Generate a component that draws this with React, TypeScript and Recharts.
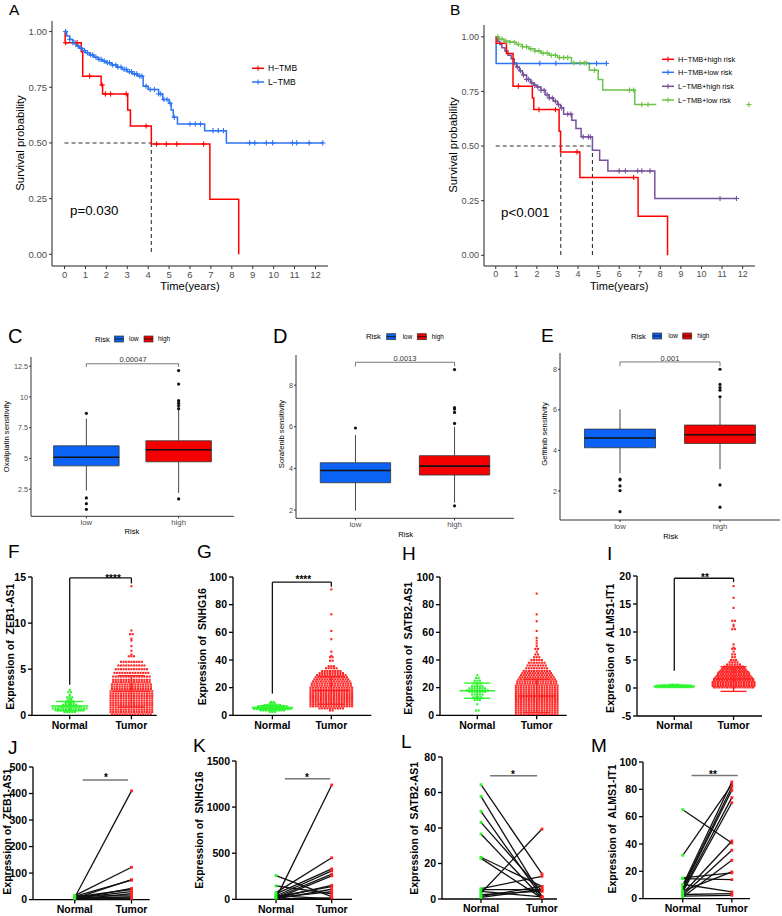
import React from "react";
import {
  ComposedChart,
  Line,
  Scatter,
  XAxis,
  YAxis,
  ReferenceLine,
  ReferenceArea,
} from "recharts";

const FONT = "'Liberation Sans', Arial, Helvetica, sans-serif";

// ---- A: survival by TMB (step times, survival after each step, censor times)
const aHighTime = [0, 0.03, 0.8, 0.87, 1.75, 1.82, 3.02, 3.15, 4.15, 6.95, 8.33];
const aHighSurv = [1, 0.95, 0.91, 0.8, 0.76, 0.72, 0.648, 0.576, 0.495, 0.247, 0];
const aHighCensor = [0.05, 0.6, 1.2, 1.8, 1.95, 2.2, 2.95, 3.9, 4.4, 4.87, 5.37, 6.65];
const aLowTime = [0, 0.1, 0.25, 0.4, 0.55, 0.7, 0.85, 1.0, 1.2, 1.4, 1.6, 1.8, 2.0, 2.25, 2.5, 2.75, 3.0, 3.25, 3.5, 3.76, 4.0, 4.5, 4.7, 5.0, 5.1, 5.2, 5.4, 6.7, 7.74];
const aLowSurv = [1, 0.98, 0.965, 0.95, 0.935, 0.925, 0.915, 0.905, 0.895, 0.885, 0.875, 0.867, 0.86, 0.85, 0.84, 0.83, 0.82, 0.81, 0.8, 0.755, 0.74, 0.72, 0.695, 0.678, 0.648, 0.615, 0.585, 0.555, 0.5];
const aLowCensor = [0.05, 0.25, 0.4, 0.5, 0.65, 0.8, 0.95, 1.1, 1.25, 1.35, 1.5, 1.65, 1.75, 1.9, 2.05, 2.15, 2.3, 2.45, 2.55, 2.7, 2.85, 2.95, 3.1, 3.2, 3.35, 3.45, 3.6, 3.7, 3.9, 4.1, 4.3, 4.5, 4.6, 4.75, 4.9, 5.05, 5.25, 6.0, 6.25, 6.5, 7.1, 7.35, 7.6, 8.85, 9.1, 9.65, 9.95, 10.9, 11.1, 11.7, 12.35];

// ---- B: TMB x risk
const bHhTime = [0, 0.02, 0.52, 0.84, 1.78, 1.85, 3.08, 3.15, 4.09, 6.92, 8.35];
const bHhSurv = [1, 0.97, 0.924, 0.774, 0.72, 0.667, 0.568, 0.473, 0.356, 0.179, 0];
const bHhCensor = [1.1, 2.1, 2.9, 3.95, 6.7];
const bHlTime = [0, 0.02];
const bHlSurv = [0.97, 0.878];
const bHlCensor = [2.14, 2.92, 4.9, 5.38];
const bLhTime = [0, 0.1, 0.2, 0.3, 0.45, 0.6, 0.75, 0.9, 1.0, 1.15, 1.3, 1.5, 1.7, 1.85, 2.0, 2.2, 2.4, 2.6, 2.8, 3.0, 3.15, 3.3, 3.7, 3.9, 4.15, 4.7, 5.05, 5.45, 7.73];
const bLhSurv = [1, 0.98, 0.965, 0.95, 0.935, 0.915, 0.9, 0.88, 0.862, 0.845, 0.825, 0.805, 0.79, 0.778, 0.77, 0.755, 0.735, 0.72, 0.705, 0.69, 0.675, 0.646, 0.618, 0.58, 0.542, 0.481, 0.435, 0.386, 0.26];
const bLhCensor = [0.9, 1.05, 1.2, 1.35, 1.5, 1.6, 1.75, 1.9, 2.05, 2.2, 2.35, 2.5, 2.6, 2.75, 2.9, 3.05, 3.2, 3.5, 3.65, 4.25, 4.5, 4.6, 6.0, 6.3, 6.9, 7.1, 7.5, 10.9, 11.7];
const bLlTime = [0, 0.15, 0.4, 0.7, 1.0, 1.3, 1.6, 1.9, 2.2, 2.6, 3.0, 3.68, 4.55, 4.98, 5.2, 6.76];
const bLlSurv = [1, 0.99, 0.98, 0.975, 0.965, 0.955, 0.945, 0.935, 0.925, 0.915, 0.905, 0.88, 0.847, 0.805, 0.756, 0.69];
const bLlCensor = [0.1, 0.3, 0.5, 0.7, 0.9, 1.1, 1.3, 1.5, 1.7, 1.9, 2.1, 2.3, 2.5, 2.7, 2.9, 3.1, 3.3, 3.5, 3.8, 4.1, 4.3, 4.4, 4.8, 6.5, 6.7, 7.1, 7.4, 12.3];

const yearTicks = [0, 1, 2, 3, 4, 5, 6, 7, 8, 9, 10, 11, 12];
const survTicks = [0, 0.25, 0.5, 0.75, 1];

// ---- C-E boxplots: [whisker low, q1, median, q3, whisker high]
const cLow = [2.4, 4.4, 5.1, 6.03, 8.25];
const cHigh = [2.2, 4.73, 5.71, 6.44, 8.95];
const cLowOut = [8.67, 1.79, 1.33, 0.87];
const cHighOut = [12.15, 11.05, 9.7, 9.5, 9.3, 9.05, 1.71];
const dLow = [1.97, 3.31, 3.9, 4.27, 5.6];
const dHigh = [2.35, 3.68, 4.11, 4.61, 6.0];
const dLowOut = [5.94];
const dHighOut = [8.75, 6.92, 6.85, 6.69, 6.16, 2.2];
const eLow = [2.87, 4.13, 4.61, 5.05, 6.02];
const eHigh = [3.07, 4.34, 4.77, 5.25, 6.55];
const eLowOut = [2.59, 2.55, 2.25, 2.02, 0.98];
const eHighOut = [8.0, 7.25, 7.1, 6.97, 6.64, 2.3, 1.2];

// ---- F-I dot plots: value rows and number of dots in each row; stats = [normal mean, sd, tumor mean, sd]
const fNormLv = [0.35, 0.55, 0.75, 0.95, 1.15, 1.35, 1.55, 1.75, 1.95, 2.2, 2.5, 2.75];
const fNormCt = [5, 12, 14, 9, 6, 4, 3, 2, 3, 1, 2, 1];
const fTumLv = [0.1, 0.35, 0.6, 0.85, 1.1, 1.35, 1.6, 1.85, 2.1, 2.35, 2.6, 2.85, 3.1, 3.35, 3.6, 3.85, 4.2, 4.6, 5.0, 5.4, 5.8, 6.4, 6.6, 7.0, 7.5, 8.1, 8.3, 8.8, 9.2, 14.0];
const fTumCt = [16, 17, 17, 17, 17, 17, 17, 17, 17, 17, 17, 16, 16, 16, 15, 15, 15, 14, 13, 11, 9, 3, 1, 1, 1, 1, 1, 2, 1, 1];
const fStats = [1.0, 0.5, 2.6, 1.7];

const gNormLv = [2.5, 3.5, 4.5, 5.5, 6.5, 7.5, 8.5, 9.6];
const gNormCt = [3, 10, 15, 16, 12, 7, 3, 2];
const gTumLv = [3.5, 5, 6.5, 8, 9.5, 11, 12.5, 14, 15.5, 17, 18.5, 20, 21.5, 23, 24.5, 26, 27.5, 29, 30.5, 32, 34, 35.5, 39.5, 42, 43, 46, 55, 61, 73, 91];
const gTumCt = [2, 10, 17, 17, 17, 17, 17, 17, 17, 17, 17, 17, 16, 16, 15, 14, 13, 12, 10, 8, 5, 3, 2, 2, 1, 1, 1, 1, 1, 1];
const gStats = [5.5, 1.4, 18, 10];

const hNormLv = [3.5, 8, 11, 13, 15, 17, 18, 19.5, 21, 23, 25, 27, 29];
const hNormCt = [2, 1, 3, 4, 5, 7, 9, 7, 5, 4, 3, 2, 1];
const hTumLv = [0.5, 2, 3.5, 5, 6.5, 8, 9.5, 11, 12.5, 14, 15.5, 17, 18.5, 20, 21.5, 23, 24.5, 26, 27.5, 29, 30.5, 32, 34, 36, 38, 40, 42, 44, 46, 48, 50, 52, 54, 56, 61, 68, 73, 88];
const hTumCt = [17, 17, 17, 17, 17, 17, 17, 17, 17, 17, 17, 17, 17, 17, 17, 16, 16, 15, 14, 13, 12, 11, 9, 8, 7, 5, 3, 2, 1, 2, 1, 1, 1, 1, 1, 1, 1, 1];
const hStats = [17.8, 5.5, 14, 12];

const iNormLv = [0.15, 0.3, 0.45, 0.6];
const iNormCt = [15, 16, 14, 4];
const iTumLv = [0.1, 0.35, 0.6, 0.85, 1.1, 1.35, 1.6, 1.85, 2.1, 2.35, 2.6, 2.85, 3.1, 3.35, 3.6, 3.85, 4.2, 4.6, 5.0, 5.5, 6.0, 6.5, 7.0, 7.2, 7.8, 10.5, 11.0, 11.3, 12.0, 14.3, 16.1, 18.2];
const iTumCt = [16, 17, 17, 17, 17, 16, 16, 15, 14, 13, 13, 12, 11, 10, 9, 8, 6, 4, 3, 2, 2, 1, 2, 1, 1, 2, 1, 1, 2, 1, 1, 1];
const iStats = [0.35, 0.15, 1.6, 2.2];

// ---- J-M paired samples (normal[i] -> tumor[i])
const jNormal = [8, 15, 5, 12, 3, 10, 6, 2, 14, 4, 7, 1, 9, 3];
const jTumor = [410, 122, 75, 73, 42, 38, 30, 22, 14, 10, 6, 3, 2, 1];
const kNormal = [10, 257, 145, 72, 58, 36, 22, 7, 14, 30, 5, 18, 3, 40];
const kTumor = [1240, 30, 60, 450, 330, 308, 272, 254, 152, 138, 109, 83, 14, 5];
const lNormal = [64.4, 57.8, 49.4, 43.2, 36.6, 23.5, 22.9, 5.8, 5.3, 4.3, 3.4, 2.4, 1.5, 0.9];
const lTumor = [14.1, 1.5, 0.9, 4.3, 0.4, 7.1, 0.5, 12.8, 5.3, 1.2, 39.4, 4.5, 7.1, 5.5];
const mNormal = [65.1, 31.7, 15.1, 14.6, 9.8, 8.5, 7.3, 6.1, 4.9, 3.7, 2.4, 1.2, 5.5, 10.5, 3.0, 1.8];
const mTumor = [40.7, 83.4, 18.8, 13.9, 85.4, 81.7, 79.3, 73.9, 70.2, 42.2, 35.4, 28.0, 19.5, 4.9, 3.7, 2.4];

const RED = "#ff0000";
const KM_BLUE = "#2b74f2";
const PURPLE = "#76519c";
const LGREEN = "#6cc24a";
const BOX_BLUE = "#0a63f5";
const BOX_RED = "#f50000";
const DOT_GREEN = "#2cf52c";
const DOT_RED = "#ff2424";

type Rect = { x0: number; y0: number; x1: number; y1: number };
const MARGIN = { top: 6, right: 6, bottom: 2, left: 2 };

function frame(r: Rect, wy: number, hx: number) {
  return {
    style: {
      position: "absolute" as const,
      left: r.x0 - wy - MARGIN.left,
      top: r.y0 - MARGIN.top,
    },
    width: r.x1 - r.x0 + wy + MARGIN.left + MARGIN.right,
    height: r.y1 - r.y0 + hx + MARGIN.top + MARGIN.bottom,
  };
}

const stepAt = (time: number[], surv: number[], t: number) => {
  let v = surv[0];
  time.forEach((tt, i) => {
    if (tt <= t) v = surv[i];
  });
  return v;
};

const plusShape = (color: string) => (p: any) => (
  <g>
    <line x1={p.cx - 2.6} x2={p.cx + 2.6} y1={p.cy} y2={p.cy} stroke={color} strokeWidth={1.1} />
    <line x1={p.cx} x2={p.cx} y1={p.cy - 2.6} y2={p.cy + 2.6} stroke={color} strokeWidth={1.1} />
  </g>
);

type Km = { time: number[]; surv: number[]; censor: number[]; end: number; color: string };

function KmPanel({ r, xd, yd, series, dashes, fs }: { r: Rect; xd: number[]; yd: number[]; series: Km[]; dashes: number[][]; fs: number }) {
  const f = frame(r, 34, 22);
  const tick = { fontSize: fs, fill: "#4d4d4d", fontFamily: FONT };
  return (
    <div style={f.style}>
      <ComposedChart width={f.width} height={f.height} margin={MARGIN}>
        <XAxis type="number" dataKey="x" domain={xd} ticks={yearTicks} interval={0} allowDataOverflow tick={tick} tickSize={3} tickLine={{ stroke: "#333" }} axisLine={{ stroke: "#222" }} height={22} />
        <YAxis type="number" dataKey="y" domain={yd} ticks={survTicks} interval={0} allowDataOverflow tickFormatter={(v: number) => v.toFixed(2)} tick={tick} tickSize={3} tickLine={{ stroke: "#333" }} axisLine={{ stroke: "#222" }} width={34} />
        {dashes.map((d, i) => (
          <ReferenceLine key={"d" + i} segment={[{ x: d[0], y: d[1] }, { x: d[2], y: d[3] }]} stroke="#333" strokeWidth={1.1} strokeDasharray="4 3" />
        ))}
        {series.map((s, i) => (
          <Line
            key={"l" + i}
            data={[...s.time.map((t, j) => ({ x: t, y: s.surv[j] })), { x: s.end, y: s.surv[s.surv.length - 1] }]}
            dataKey="y"
            type="stepAfter"
            stroke={s.color}
            strokeWidth={1.5}
            dot={false}
            isAnimationActive={false}
          />
        ))}
        {series.map((s, i) => (
          <Scatter
            key={"c" + i}
            data={s.censor.map((t) => ({ x: t, y: stepAt(s.time, s.surv, t) }))}
            dataKey="y"
            shape={plusShape(s.color)}
            isAnimationActive={false}
          />
        ))}
      </ComposedChart>
    </div>
  );
}

const BW = 0.355;

function BoxPanel({ r, yd, yTicks, low, high, lowOut, highOut, bracket }: { r: Rect; yd: number[]; yTicks: number[]; low: number[]; high: number[]; lowOut: number[]; highOut: number[]; bracket: number[] }) {
  const f = frame(r, 22, 18);
  const tick = { fontSize: 7.2, fill: "#4d4d4d", fontFamily: FONT };
  const groups = [
    { c: 1, s: low, fill: BOX_BLUE, out: lowOut },
    { c: 2, s: high, fill: BOX_RED, out: highOut },
  ];
  return (
    <div style={f.style}>
      <ComposedChart width={f.width} height={f.height} margin={MARGIN}>
        <XAxis type="number" dataKey="x" domain={[0.4, 2.6]} ticks={[1, 2]} interval={0} allowDataOverflow tickFormatter={(v: number) => (v === 1 ? "low" : "high")} tick={{ ...tick, fontSize: 7.8 }} tickSize={2} tickMargin={1} tickLine={{ stroke: "#333" }} axisLine={{ stroke: "#333" }} height={18} />
        <YAxis type="number" dataKey="y" domain={yd} ticks={yTicks} interval={0} allowDataOverflow tick={tick} tickSize={2} tickMargin={1} tickLine={{ stroke: "#333" }} axisLine={{ stroke: "#333" }} width={22} />
        {groups.map((g) => [
          <ReferenceLine key={"wl" + g.c} segment={[{ x: g.c, y: g.s[0] }, { x: g.c, y: g.s[1] }]} stroke="#333" strokeWidth={0.9} />,
          <ReferenceLine key={"wh" + g.c} segment={[{ x: g.c, y: g.s[3] }, { x: g.c, y: g.s[4] }]} stroke="#333" strokeWidth={0.9} />,
          <ReferenceArea key={"b" + g.c} x1={g.c - BW} x2={g.c + BW} y1={g.s[1]} y2={g.s[3]} fill={g.fill} fillOpacity={1} stroke="#333" strokeWidth={0.8} />,
          <ReferenceLine key={"m" + g.c} segment={[{ x: g.c - BW, y: g.s[2] }, { x: g.c + BW, y: g.s[2] }]} stroke="#111" strokeWidth={1.6} />,
          <Scatter key={"o" + g.c} data={g.out.map((v) => ({ x: g.c, y: v }))} dataKey="y" fill="#111" shape={(p: any) => <circle cx={p.cx} cy={p.cy} r={1.6} fill="#111" />} isAnimationActive={false} />,
        ])}
        <ReferenceLine segment={[{ x: 1, y: bracket[0] }, { x: 1, y: bracket[1] }]} stroke="#555" strokeWidth={0.8} />
        <ReferenceLine segment={[{ x: 1, y: bracket[1] }, { x: 2, y: bracket[1] }]} stroke="#555" strokeWidth={0.8} />
        <ReferenceLine segment={[{ x: 2, y: bracket[1] }, { x: 2, y: bracket[0] }]} stroke="#555" strokeWidth={0.8} />
      </ComposedChart>
    </div>
  );
}

const boldTick = { fontSize: 10.5, fontWeight: 700, fill: "#000", fontFamily: FONT };
const axisBlack = { stroke: "#000", strokeWidth: 1.3 };
const groupName = (v: number) => (v === 1 ? "Normal" : "Tumor");

function swarm(levels: number[], counts: number[], center: number, step: number) {
  const pts: { x: number; y: number }[] = [];
  levels.forEach((v, i) => {
    const n = counts[i];
    for (let j = 0; j < n; j++) pts.push({ x: center + (j - (n - 1) / 2) * step, y: v });
  });
  return pts;
}

const squareShape = (color: string, size: number) => (p: any) => (
  <rect x={p.cx - size / 2} y={p.cy - size / 2} width={size} height={size} fill={color} />
);

function DotPanel({ r, xd, yd, yTicks, wy, nLv, nCt, tLv, tCt, stats, bracket }: { r: Rect; xd: number[]; yd: number[]; yTicks: number[]; wy: number; nLv: number[]; nCt: number[]; tLv: number[]; tCt: number[]; stats: number[]; bracket?: number[] }) {
  const f = frame(r, wy, 22);
  const ppu = (r.x1 - r.x0) / (xd[1] - xd[0]);
  const step = 2.6 / ppu;
  const errs = [
    { c: 1, m: stats[0], sd: stats[1], color: DOT_GREEN },
    { c: 2, m: stats[2], sd: stats[3], color: DOT_RED },
  ];
  return (
    <div style={f.style}>
      <ComposedChart width={f.width} height={f.height} margin={MARGIN}>
        <XAxis type="number" dataKey="x" domain={xd} ticks={[1, 2]} interval={0} allowDataOverflow tickFormatter={groupName} tick={boldTick} tickSize={4} tickLine={axisBlack} axisLine={axisBlack} height={22} />
        <YAxis type="number" dataKey="y" domain={yd} ticks={yTicks} interval={0} allowDataOverflow tick={boldTick} tickSize={4} tickLine={axisBlack} axisLine={axisBlack} width={wy} />
        <Scatter data={swarm(nLv, nCt, 1, step)} dataKey="y" shape={squareShape(DOT_GREEN, 2.1)} isAnimationActive={false} />
        <Scatter data={swarm(tLv, tCt, 2, step)} dataKey="y" shape={squareShape(DOT_RED, 2.1)} isAnimationActive={false} />
        {errs.map((e) => [
          <ReferenceLine key={"v" + e.c} segment={[{ x: e.c, y: e.m - e.sd }, { x: e.c, y: e.m + e.sd }]} stroke={e.color} strokeWidth={1.4} />,
          <ReferenceLine key={"m" + e.c} segment={[{ x: e.c - 0.3, y: e.m }, { x: e.c + 0.3, y: e.m }]} stroke={e.color} strokeWidth={1.5} />,
          <ReferenceLine key={"u" + e.c} segment={[{ x: e.c - 0.22, y: e.m + e.sd }, { x: e.c + 0.22, y: e.m + e.sd }]} stroke={e.color} strokeWidth={1.4} />,
          <ReferenceLine key={"l" + e.c} segment={[{ x: e.c - 0.22, y: e.m - e.sd }, { x: e.c + 0.22, y: e.m - e.sd }]} stroke={e.color} strokeWidth={1.4} />,
        ])}
        {bracket && [
          <ReferenceLine key="b1" segment={[{ x: 1, y: bracket[0] }, { x: 1, y: bracket[1] }]} stroke="#111" strokeWidth={1.3} />,
          <ReferenceLine key="b2" segment={[{ x: 1, y: bracket[1] }, { x: 2, y: bracket[1] }]} stroke="#111" strokeWidth={1.3} />,
          <ReferenceLine key="b3" segment={[{ x: 2, y: bracket[1] }, { x: 2, y: bracket[2] }]} stroke="#111" strokeWidth={1.3} />,
        ]}
      </ComposedChart>
    </div>
  );
}

const pairDot = (p: any) => (
  <rect x={p.cx - 1.4} y={p.cy - 1.4} width={2.8} height={2.8} fill={p.payload && p.payload.x === 1 ? DOT_GREEN : DOT_RED} />
);

function PairPanel({ r, xd, yd, yTicks, wy, normal, tumor, bracket }: { r: Rect; xd: number[]; yd: number[]; yTicks: number[]; wy: number; normal: number[]; tumor: number[]; bracket: number[] }) {
  const f = frame(r, wy, 15);
  return (
    <div style={f.style}>
      <ComposedChart width={f.width} height={f.height} margin={MARGIN}>
        <XAxis type="number" dataKey="x" domain={xd} ticks={[1, 2]} interval={0} allowDataOverflow tickFormatter={groupName} tick={boldTick} tickSize={4} tickLine={axisBlack} axisLine={axisBlack} height={15} />
        <YAxis type="number" dataKey="y" domain={yd} ticks={yTicks} interval={0} allowDataOverflow tick={boldTick} tickSize={4} tickLine={axisBlack} axisLine={axisBlack} width={wy} />
        <ReferenceLine segment={[{ x: bracket[0], y: bracket[2] }, { x: bracket[1], y: bracket[2] }]} stroke="#777" strokeWidth={1.5} />
        {normal.map((n, i) => (
          <Scatter
            key={i}
            data={[{ x: 1, y: n }, { x: 2, y: tumor[i] }]}
            dataKey="y"
            line={{ stroke: "#111", strokeWidth: 1.3 }}
            lineType="joint"
            shape={pairDot}
            isAnimationActive={false}
          />
        ))}
      </ComposedChart>
    </div>
  );
}

function VText({ x, y, size, bold, children }: { x: number; y: number; size: number; bold?: boolean; children: string }) {
  return (
    <text x={x} y={y} transform={`rotate(-90 ${x} ${y})`} textAnchor="middle" dominantBaseline="central" fontSize={size} fontWeight={bold ? 700 : 400} style={{ whiteSpace: "pre" }}>
      {children}
    </text>
  );
}

function KmKey({ x, y, color, label, size }: { x: number; y: number; color: string; label: string; size: number }) {
  return (
    <g>
      <line x1={x} x2={x + 12} y1={y} y2={y} stroke={color} strokeWidth={1.5} />
      <line x1={x + 6} x2={x + 6} y1={y - 2.5} y2={y + 2.5} stroke={color} strokeWidth={1.1} />
      <text x={x + 16} y={y + size * 0.35} fontSize={size}>{label}</text>
    </g>
  );
}

function BoxKey({ x, y, w, fill }: { x: number; y: number; w: number; fill: string }) {
  return (
    <g>
      <rect x={x} y={y - 3} width={w} height={6} fill={fill} stroke="#333" strokeWidth={0.7} />
      <line x1={x} x2={x + w} y1={y} y2={y} stroke="#111" strokeWidth={0.9} />
    </g>
  );
}

function RiskLegend({ y, risk, blue, low, red, high }: { y: number; risk: number; blue: number; low: number; red: number; high: number }) {
  return (
    <g>
      <text x={risk} y={y + 2.7} fontSize={7.7}>Risk</text>
      <BoxKey x={blue} y={y} w={9} fill={BOX_BLUE} />
      <text x={low} y={y + 2.3} fontSize={6.4}>low</text>
      <BoxKey x={red} y={y} w={9} fill={BOX_RED} />
      <text x={high} y={y + 2.3} fontSize={6.4}>high</text>
    </g>
  );
}

export default function App() {
  return (
    <div style={{ position: "relative", width: 782, height: 916, overflow: "hidden", background: "#fff", fontFamily: FONT }}>
      <style>{"body{margin:0}"}</style>

      <KmPanel
        r={{ x0: 52, y0: 21, x1: 328, y1: 266 }}
        xd={[-0.6, 12.6]}
        yd={[-0.0525, 1.0475]}
        fs={9.5}
        dashes={[[0, 0.5, 4.15, 0.5], [4.15, 0.5, 4.15, 0]]}
        series={[
          { time: aLowTime, surv: aLowSurv, censor: aLowCensor, end: 12.35, color: KM_BLUE },
          { time: aHighTime, surv: aHighSurv, censor: aHighCensor, end: 8.33, color: RED },
        ]}
      />
      <KmPanel
        r={{ x0: 484, y0: 25, x1: 755, y1: 266 }}
        xd={[-0.57, 12.6]}
        yd={[-0.049, 1.054]}
        fs={9}
        dashes={[[0, 0.5, 4.7, 0.5], [3.16, 0.5, 3.16, 0], [4.7, 0.5, 4.7, 0]]}
        series={[
          { time: bLlTime, surv: bLlSurv, censor: bLlCensor, end: 7.8, color: LGREEN },
          { time: bLhTime, surv: bLhSurv, censor: bLhCensor, end: 11.7, color: PURPLE },
          { time: bHlTime, surv: bHlSurv, censor: bHlCensor, end: 5.4, color: KM_BLUE },
          { time: bHhTime, surv: bHhSurv, censor: bHhCensor, end: 8.35, color: RED },
        ]}
      />

      <BoxPanel r={{ x0: 31, y0: 356.7, x1: 234, y1: 516 }} yd={[0.3, 13.25]} yTicks={[2.5, 5, 7.5, 10, 12.5]} low={cLow} high={cHigh} lowOut={cLowOut} highOut={cHighOut} bracket={[12.45, 12.7]} />
      <BoxPanel r={{ x0: 296, y0: 355, x1: 514, y1: 518.3 }} yd={[1.6, 9.45]} yTicks={[2, 4, 6, 8]} low={dLow} high={dHigh} lowOut={dLowOut} highOut={dHighOut} bracket={[8.9, 9.1]} />
      <BoxPanel r={{ x0: 560, y0: 353, x1: 780, y1: 520 }} yd={[0.57, 8.8]} yTicks={[2, 4, 6, 8]} low={eLow} high={eHigh} lowOut={eLowOut} highOut={eHighOut} bracket={[8.15, 8.36]} />

      <DotPanel r={{ x0: 32.3, y0: 576.7, x1: 157, y1: 715 }} xd={[0.389, 2.41]} yd={[0, 15]} yTicks={[0, 5, 10, 15]} wy={22} nLv={fNormLv} nCt={fNormCt} tLv={fTumLv} tCt={fTumCt} stats={fStats} bracket={[3.3, 14.9, 14.3]} />
      <DotPanel r={{ x0: 233.3, y0: 576.7, x1: 371.7, y1: 715 }} xd={[0.332, 2.68]} yd={[0, 100]} yTicks={[0, 20, 40, 60, 80, 100]} wy={26} nLv={gNormLv} nCt={gNormCt} tLv={gTumLv} tCt={gTumCt} stats={gStats} bracket={[15.7, 96.3, 93]} />
      <DotPanel r={{ x0: 440, y0: 576.7, x1: 566.7, y1: 715 }} xd={[0.372, 2.505]} yd={[0, 100]} yTicks={[0, 20, 40, 60, 80, 100]} wy={26} nLv={hNormLv} nCt={hNormCt} tLv={hTumLv} tCt={hTumCt} stats={hStats} />
      <DotPanel r={{ x0: 636.7, y0: 575.7, x1: 761.7, y1: 715.7 }} xd={[0.371, 2.48]} yd={[-5, 20]} yTicks={[-5, 0, 5, 10, 15, 20]} wy={22} nLv={iNormLv} nCt={iNormCt} tLv={iTumLv} tCt={iTumCt} stats={iStats} bracket={[3.1, 19.6, 18.9]} />

      <PairPanel r={{ x0: 33.3, y0: 766.7, x1: 150, y1: 899.3 }} xd={[0.265, 2.32]} yd={[0, 500]} yTicks={[0, 100, 200, 300, 400, 500]} wy={24} normal={jNormal} tumor={jTumor} bracket={[1.14, 1.94, 451]} />
      <PairPanel r={{ x0: 236, y0: 761, x1: 352, y1: 899.3 }} xd={[0.282, 2.364]} yd={[0, 1500]} yTicks={[0, 500, 1000, 1500]} wy={30} normal={kNormal} tumor={kTumor} bracket={[1.16, 1.97, 1307]} />
      <PairPanel r={{ x0: 441.7, y0: 757.3, x1: 556.7, y1: 899.3 }} xd={[0.361, 2.246]} yd={[0, 80]} yTicks={[0, 20, 40, 60, 80]} wy={22} normal={lNormal} tumor={lTumor} bracket={[1.15, 1.92, 69.5]} />
      <PairPanel r={{ x0: 643, y0: 761.7, x1: 750, y1: 898.3 }} xd={[0.19, 2.37]} yd={[0, 100]} yTicks={[0, 20, 40, 60, 80, 100]} wy={26} normal={mNormal} tumor={mTumor} bracket={[1.18, 2.12, 90.2]} />

      <svg width={782} height={916} style={{ position: "absolute", left: 0, top: 0, pointerEvents: "none" }} fontFamily={FONT} fill="#000">
        {/* panel letters */}
        <text x={9} y={15} fontSize={15.5}>A</text>
        <text x={450} y={15} fontSize={15.5}>B</text>
        <text x={8} y={343} fontSize={20}>C</text>
        <text x={273} y={343} fontSize={20}>D</text>
        <text x={541} y={342} fontSize={19}>E</text>
        <text x={8} y={557.5} fontSize={19}>F</text>
        <text x={197} y={558} fontSize={19}>G</text>
        <text x={402} y={560} fontSize={19}>H</text>
        <text x={607} y={560} fontSize={19}>I</text>
        <text x={8} y={754} fontSize={19}>J</text>
        <text x={193} y={751.5} fontSize={19}>K</text>
        <text x={401} y={748.3} fontSize={19}>L</text>
        <text x={591} y={751.5} fontSize={19}>M</text>

        {/* A / B */}
        <VText x={20} y={143} size={11.4}>Survival probability</VText>
        <text x={190} y={290} fontSize={11.2} textAnchor="middle">Time(years)</text>
        <text x={70} y={215} fontSize={13.3}>p=0.030</text>
        <KmKey x={252} y={68.3} color={RED} label="H−TMB" size={8.5} />
        <KmKey x={252} y={82} color={KM_BLUE} label="L−TMB" size={8.5} />

        <VText x={452.5} y={145} size={11.4}>Survival probability</VText>
        <text x={619.2} y={290} fontSize={11} textAnchor="middle">Time(years)</text>
        <text x={501} y={216.5} fontSize={13.3}>p&lt;0.001</text>
        <KmKey x={662} y={59.3} color={RED} label="H−TMB+high risk" size={7.4} />
        <KmKey x={662} y={72.3} color={KM_BLUE} label="H−TMB+low risk" size={7.4} />
        <KmKey x={662} y={86.3} color={PURPLE} label="L−TMB+high risk" size={7.4} />
        <KmKey x={662} y={100} color={LGREEN} label="L−TMB+low risk" size={7.4} />

        {/* C / D / E */}
        <RiskLegend y={339} risk={95} blue={114.5} low={129} red={144} high={158} />
        <RiskLegend y={336.7} risk={366} blue={386.7} low={402.7} red={417.3} high={431.7} />
        <RiskLegend y={336} risk={631} blue={652.7} low={668.3} red={682.7} high={697.3} />
        <VText x={6} y={436.5} size={7.7}>Oxaliplatin sensitivity</VText>
        <VText x={281} y={434} size={7.7}>Sorafenib sensitivity</VText>
        <VText x={544.5} y={434} size={7.7}>Gefitinib sensitivity</VText>
        <text x={132} y={534} fontSize={7.7} textAnchor="middle">Risk</text>
        <text x={405.7} y={537} fontSize={7.7} textAnchor="middle">Risk</text>
        <text x={670.7} y={539} fontSize={7.7} textAnchor="middle">Risk</text>
        <text x={133} y={361.7} fontSize={7.5} textAnchor="middle" fill="#333">0.00047</text>
        <text x={405} y={361} fontSize={7.5} textAnchor="middle" fill="#333">0.0013</text>
        <text x={670} y={360.7} fontSize={7.5} textAnchor="middle" fill="#333">0.001</text>

        {/* F - I */}
        <VText x={10} y={646.7} size={10.5} bold>Expression of  ZEB1-AS1</VText>
        <VText x={201.7} y={646.7} size={10.5} bold>Expression of  SNHG16</VText>
        <VText x={408} y={648.3} size={10.5} bold>Expression of  SATB2-AS1</VText>
        <VText x={610} y={648.3} size={10.5} bold>Expression of  ALMS1-IT1</VText>
        <text x={113} y={582} fontSize={10} fontWeight={700} textAnchor="middle">****</text>
        <text x={303.3} y={583} fontSize={10} fontWeight={700} textAnchor="middle">****</text>
        <text x={705} y={581} fontSize={10} fontWeight={700} textAnchor="middle">**</text>

        {/* J - M */}
        <VText x={7.5} y={831.7} size={10.5} bold>Expression of  ZEB1-AS1</VText>
        <VText x={199} y={830} size={10.5} bold>Expression of  SNHG16</VText>
        <VText x={414} y={828.3} size={10.5} bold>Expression of  SATB2-AS1</VText>
        <VText x={611.7} y={829} size={10.5} bold>Expression of  ALMS1-IT1</VText>
        <text x={106} y={781} fontSize={10} fontWeight={700} textAnchor="middle">*</text>
        <text x={307} y={781} fontSize={10} fontWeight={700} textAnchor="middle">*</text>
        <text x={513} y={778} fontSize={10} fontWeight={700} textAnchor="middle">*</text>
        <text x={713} y={778} fontSize={10} fontWeight={700} textAnchor="middle">**</text>
      </svg>
    </div>
  );
}
